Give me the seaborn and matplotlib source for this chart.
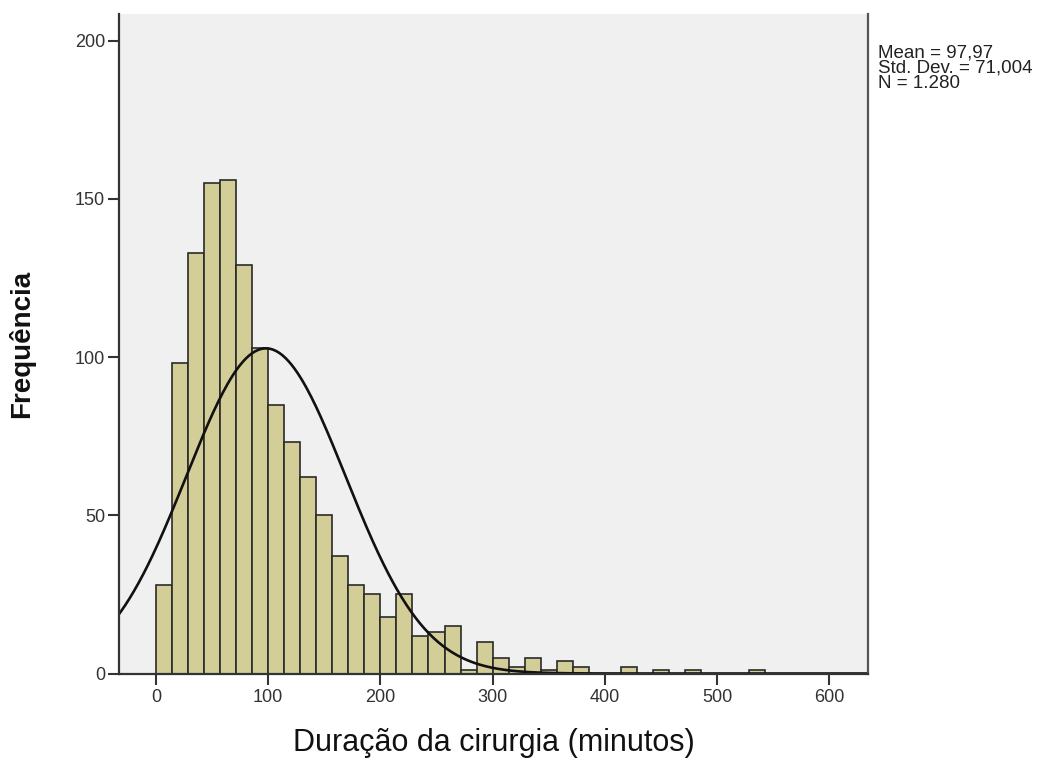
import numpy as np
import pandas as pd
import matplotlib
matplotlib.use("Agg")
import matplotlib.pyplot as plt
import seaborn as sns

# ---- data ----
bin_width = 100 / 7
counts = [28, 98, 133, 155, 156, 129, 103, 85, 73, 62, 50, 37, 28, 25, 18, 25,
          12, 13, 15, 1, 10, 5, 2, 5, 1, 4, 2, 0, 0, 2, 0, 1, 0, 1, 0, 0, 0, 1]
mean_val = 97.97
sd_val = 71.004
n_val = 1280
x_ticks = [0, 100, 200, 300, 400, 500, 600]
y_ticks = [0, 50, 100, 150, 200]
stats_lines = ["Mean = 97,97", "Std. Dev. = 71,004", "N = 1.280"]
x_label = "Duração da cirurgia (minutos)"
y_label = "Frequência"

sns.set_theme(style="white")
plt.rcParams['font.family'] = ['Liberation Sans', 'DejaVu Sans']

n_bins = len(counts)
centers = (np.arange(n_bins) + 0.5) * bin_width
df = pd.DataFrame({"dur": centers, "freq": counts})

fig = plt.figure(figsize=(10.45, 7.6), dpi=100)
W, H = 1045, 760
ax_l, ax_r, ax_b, ax_t = 119, 868, 673.5, 14
ax = fig.add_axes([ax_l / W, 1 - ax_b / H, (ax_r - ax_l) / W, (ax_b - ax_t) / H])
ax.set_facecolor("#F0F0F0")

sns.histplot(data=df, x="dur", weights="freq", binwidth=bin_width,
             binrange=(0, n_bins * bin_width), color="#D3CE97",
             edgecolor="#2a2a2a", linewidth=1.2, alpha=1, ax=ax)

xs = np.linspace(-40, 640, 500)
ys = n_val * bin_width * np.exp(-0.5 * ((xs - mean_val) / sd_val) ** 2) / (sd_val * np.sqrt(2 * np.pi))
sns.lineplot(x=xs, y=ys, color="#111111", linewidth=1.9, ax=ax)

ax.set_xlim(-33, 634.6)
ax.set_ylim(0, 208.4)
ax.set_xticks(x_ticks)
ax.set_yticks(y_ticks)

ax.spines["top"].set_visible(False)
for s in ["left", "bottom"]:
    ax.spines[s].set_color("#333333")
    ax.spines[s].set_linewidth(1.6)
ax.spines["right"].set_color("#555555")
ax.spines["right"].set_linewidth(1.6)

ax.tick_params(bottom=True, left=True, direction="out", length=8, width=1.5,
               color="#333333", labelsize=13, labelcolor="#333333", pad=2)
ax.tick_params(axis="x", pad=3)

ax.set_xlabel(x_label, fontsize=22, color="#111111")
ax.xaxis.set_label_coords(0.5, -0.0826)
ax.set_ylabel(y_label, fontsize=20, fontweight="bold", color="#111111")
ax.yaxis.set_label_coords(-0.112, 0.5)

baselines = [57, 72.5, 88]
for line, yb in zip(stats_lines, baselines):
    fig.text(878 / W, 1 - yb / H, line, fontsize=13.5, color="#222222",
             ha="left", va="baseline")

fig.savefig("out.png", dpi=100, facecolor="white")
